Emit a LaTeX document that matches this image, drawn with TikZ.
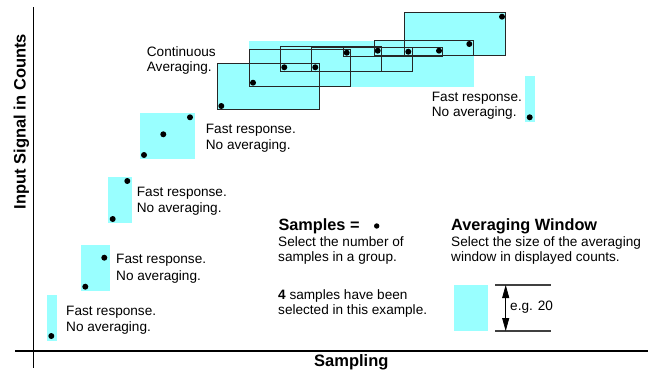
\documentclass[tikz,border=0pt]{standalone}
\usepackage{fontspec}
\setmainfont{Liberation Sans}
\usetikzlibrary{arrows.meta}
\definecolor{wincyan}{RGB}{153,255,255}
\tikzset{
  txt/.style={anchor=base west, inner sep=0pt, font=\fontsize{13.6}{16}\selectfont},
  head/.style={anchor=base west, inner sep=0pt, font=\fontsize{16.3}{19}\selectfont\bfseries},
  win/.style={fill=wincyan, draw=none},
  avgbox/.style={draw=black!85, line width=0.9pt},
  sample/.style={fill=black},
  axis/.style={line width=1.5pt},
  dimline/.style={draw=black!75, line width=1.1pt},
}
\begin{document}
\begin{tikzpicture}[x=1pt,y=-1pt]
\useasboundingbox (0,0) rectangle (650,372);

% axes
\coordinate (ytop) at (33.3,7);
\coordinate (ybot) at (33.3,368);
\coordinate (xl) at (15,351);
\coordinate (xr) at (648,351);
\draw[axis] (ytop) -- (ybot);
\draw[axis] (xl) -- (xr);
\node[anchor=base, inner sep=0pt, rotate=90, font=\fontsize{16.5}{19}\selectfont\bfseries] (ylabel) at (25.5,121.5) {Input Signal in Counts};
\node[anchor=base west, inner sep=0pt, font=\fontsize{16.5}{19}\selectfont\bfseries] (xlabel) at (314,366) {Sampling};

% windows without averaging
\fill[win] (47,295) rectangle (56.7,340.7);
\fill[win] (81,245) rectangle (110,290.7);
\fill[win] (108,177.3) rectangle (131.7,222.7);
\fill[win] (140,113.3) rectangle (195,159);
\fill[win] (525,76) rectangle (535,121.7);

% continuous averaging fills
\fill[win] (217.3,63.3) rectangle (319,109.3);
\fill[win] (249,41) rectangle (474,87);
\fill[win] (404.3,12.7) rectangle (505.7,55.3);

% continuous averaging boxes
\draw[avgbox] (217.3,63.3) rectangle (319,109.3);
\draw[avgbox] (249.5,49) rectangle (350.5,86.5);
\draw[avgbox] (280.5,46.5) rectangle (381.5,71);
\draw[avgbox] (311.5,47) rectangle (412,71);
\draw[avgbox] (343,47) rectangle (442.5,56.7);
\draw[avgbox] (374,40.7) rectangle (473.3,55.3);
\draw[avgbox] (404.3,12.7) rectangle (505.7,55.3);

% samples
\foreach \p in {(51.3,336),(104.3,257.7),(85.3,286.7),(127.3,181),(112.7,219),
  (190,117.3),(163.3,134.3),(144,155),
  (221.3,106),(253,82.7),(284.3,67.3),(315.3,67.3),(346.7,52.7),(377.7,50.7),
  (408.3,51.7),(439,50.7),(469.3,44),(502,16.7),(529.7,117.3)}
  \fill[sample] \p circle (3);

% labels
\node[txt] (fr1) at (66,315) {Fast response.};
\node[txt] (na1) at (66,331.7) {No averaging.};
\node[txt] (fr2) at (116,263.3) {Fast response.};
\node[txt] (na2) at (116,280) {No averaging.};
\node[txt] (fr3) at (136.7,196.7) {Fast response.};
\node[txt] (na3) at (136.7,212.7) {No averaging.};
\node[txt] (fr4) at (205.7,133.3) {Fast response.};
\node[txt] (na4) at (205.7,149.3) {No averaging.};
\node[txt] (fr5) at (431.7,101.7) {Fast response.};
\node[txt] (na5) at (431.7,116.7) {No averaging.};
\node[txt] (ca1) at (146.7,56.5) {Continuous};
\node[txt] (ca2) at (146.7,71.5) {Averaging.};

% samples legend
\node[head] (samp) at (278.3,230.7) {Samples =};
\fill[sample] (376.7,226) circle (2.7);
\node[txt] (s1) at (278,246) {Select the number of};
\node[txt] (s2) at (278,261) {samples in a group.};
\node[txt] (s3) at (278,299) {\textbf{4} samples have been};
\node[txt] (s4) at (278,314) {selected in this example.};

% averaging window legend
\node[head] (aw) at (451,230.7) {Averaging Window};
\node[txt] (a1) at (451,246) {Select the size of the averaging};
\node[txt] (a2) at (451,261) {window in displayed counts.};
\fill[win] (454,285) rectangle (488.3,331);
\coordinate (dt1) at (495,285);
\coordinate (dt2) at (551,285);
\coordinate (db1) at (495,331);
\coordinate (db2) at (551,331);
\draw[dimline] (dt1) -- (dt2);
\draw[dimline] (db1) -- (db2);
\coordinate (at) at (505.7,285);
\coordinate (ab) at (505.7,331);
\draw[line width=0.8pt, {Triangle[length=13pt,width=7pt]}-{Triangle[length=13pt,width=7pt]}] (at) -- (ab);
\node[txt] (eg) at (510,310.7) {e.g. 20};
\end{tikzpicture}
\end{document}
